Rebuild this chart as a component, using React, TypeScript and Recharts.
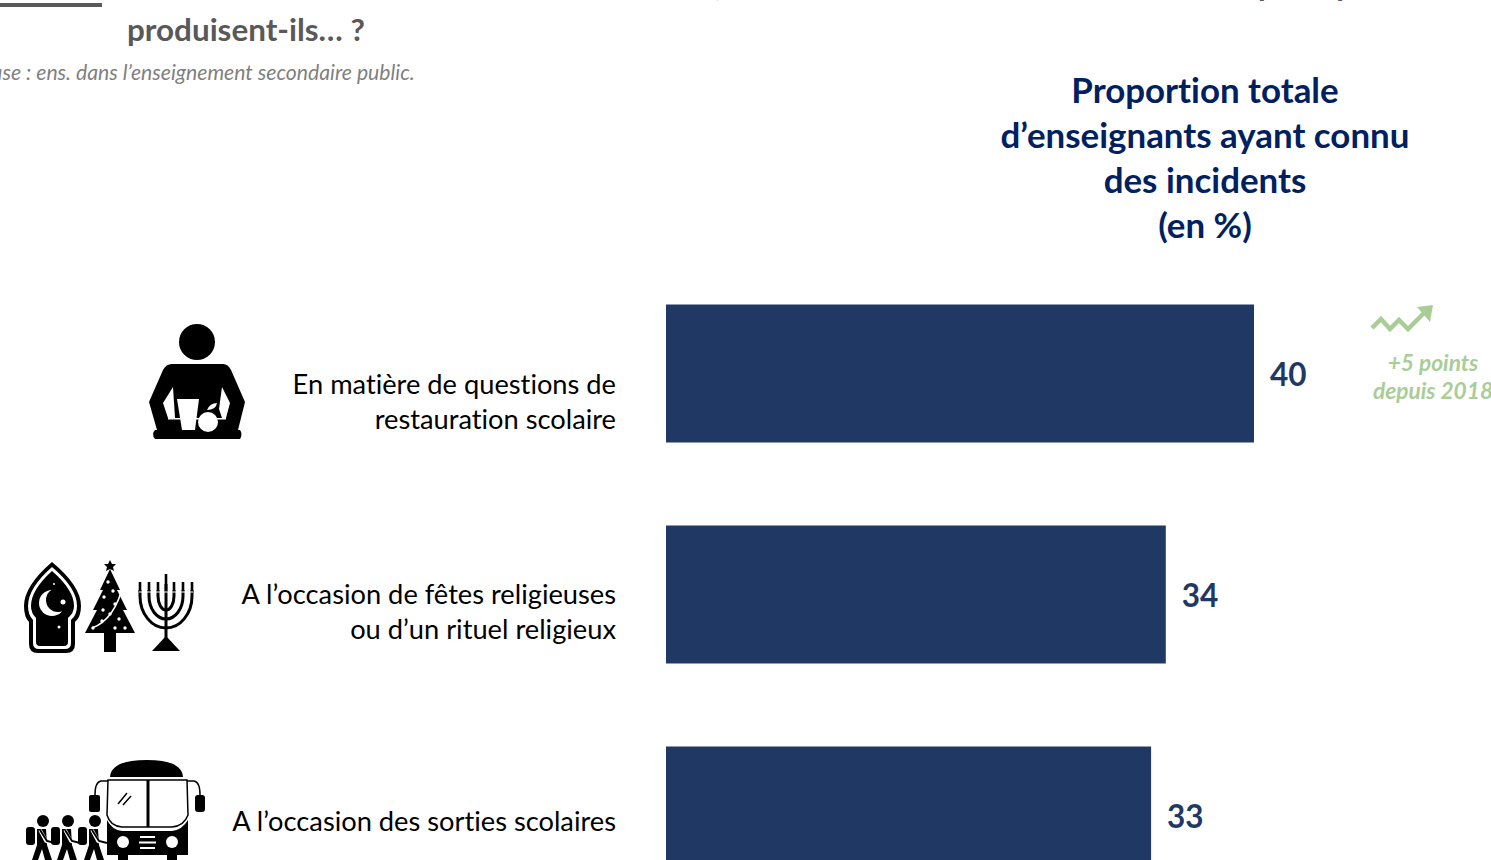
import React from 'react'
import { BarChart, Bar, XAxis, YAxis, LabelList, Cell } from 'recharts'

const categories = [
  ['En matière de questions de', 'restauration scolaire'],
  ['A l’occasion de fêtes religieuses', 'ou d’un rituel religieux'],
  ['A l’occasion des sorties scolaires'],
]
const values = [40, 34, 33]
const titleLines = ['Proportion totale', 'd’enseignants ayant connu', 'des incidents', '(en %)']
const rows = categories.map((lines, i) => ({ name: lines.join(' '), lines, value: values[i] }))

const NAVY = '#1f3864'
const FONT = 'Lato, "Noto Sans", sans-serif'
const noLig = { fontVariantLigatures: 'none' } as React.CSSProperties

function MealIcon() {
  return (
    <g>
      <circle cx={197} cy={342} r={18} fill="#000" />
      <path d="M172 364 H223 Q228 364 231 370 L245 402 L238 430 H240 Q243 434 240 439 H155 Q151 434 155 430 H157 L149 402 L163 370 Q166 364 172 364 Z" fill="#000" />
      <path d="M163 403 L173 387 L175 418 H168 Z" fill="#fff" />
      <path d="M230 403 L222 387 L219 409 L222 418 H226 Z" fill="#fff" />
      <path d="M168 418 H226 V419.5 H168 Z" fill="#fff" />
      <path d="M177 399 H199 L195 430 H182 Z" fill="#fff" />
      <circle cx={208} cy={422} r={10} fill="#fff" />
      <path d="M207 410 Q210 403 217 403 Q216 410 207 410 Z" fill="#fff" />
    </g>
  )
}

function FeastIcon() {
  const arms = [8, 17, 26]
  return (
    <g>
      <path d="M52 562 Q81 586 81 606 Q81 617 75 622 V644 Q75 653 66 653 H38 Q29 653 29 644 V622 Q24 617 24 606 Q24 586 52 562 Z" fill="#000" />
      <path d="M52 567 Q77 588 77 606 Q77 615 71 620 V643 Q71 649 65 649 H39 Q33 649 33 643 V620 Q28 615 28 606 Q28 588 52 567 Z" fill="#fff" />
      <path d="M52 571 Q74 590 74 606 Q74 613 68 618 V642 Q68 646 64 646 H40 Q36 646 36 642 V618 Q31 613 31 606 Q31 590 52 571 Z" fill="#000" />
      <circle cx={52} cy={603} r={13} fill="#fff" />
      <circle cx={58} cy={600} r={12} fill="#000" />
      <circle cx={63} cy={602} r={2.5} fill="#fff" />
      <circle cx={59} cy={627} r={1.5} fill="#fff" />
      <circle cx={54} cy={584} r={1} fill="#fff" />
      <path d="M110 560 L112 564 L116 564 L113 567 L114 571 L110 569 L106 571 L107 567 L104 564 L108 564 Z" fill="#000" />
      <path d="M110 569 L120 590 H117 L127 610 H123 L135 633 H116 V652 H104 V633 H85 L97 610 H93 L103 590 H100 Z" fill="#000" />
      <path d="M92 628 Q115 620 124 582" fill="none" stroke="#fff" strokeWidth={1.5} />
      {[[108, 582], [113, 591], [104, 597], [115, 604], [103, 610], [110, 614], [119, 619], [102, 621], [93, 628], [115, 628], [125, 628]].map(([cx, cy], i) => (
        <circle key={i} cx={cx} cy={cy} r={1.7} fill="#fff" />
      ))}
      <g fill="none" stroke="#000" strokeWidth={3}>
        <path d="M166 584 V644" />
        {arms.map((r) => (
          <path key={r} d={`M${166 - r} 590 V596 A${r} ${r + 6} 0 0 0 ${166 + r} 596 V590`} />
        ))}
      </g>
      <path d="M166 636 L180 651 H152 Z" fill="#000" />
      {[-26, -17, -8, 0, 8, 17, 26].map((dx) => (
        <rect key={dx} x={164.7 + dx} y={dx === 0 ? 574 : 582} width={2.6} height={dx === 0 ? 18 : 10} fill="#000" />
      ))}
      <rect x={139} y={591.5} width={54} height={1} fill="#fff" />
    </g>
  )
}

function TripIcon() {
  return (
    <g>
      <path d="M110 777 Q111 760 147 760 Q182 760 183 777 Z" fill="#000" />
      <path d="M108 780 H187 L188 815 Q184 826 172 827 H122 Q110 826 107 815 Z" fill="#fff" stroke="#000" strokeWidth={1.5} />
      <path d="M148 780 V827" stroke="#000" strokeWidth={3} />
      <path d="M107 820 Q112 830 122 831 H172 Q182 830 188 820 V855 H177 V860 H167 V855 H128 V860 H118 V855 H107 Z" fill="#000" />
      <circle cx={123} cy={842} r={6} fill="#fff" />
      <circle cx={172} cy={842} r={6} fill="#fff" />
      <path d="M140 837 H155 M139 842.5 H156 M140 848 H155" stroke="#fff" strokeWidth={2} />
      <path d="M118 804 L127 793 M123 805 L131 796" stroke="#000" strokeWidth={1.5} />
      <path d="M108 781 H101 Q95 782 95 795 M187 781 H194 Q200 782 200 795" fill="none" stroke="#000" strokeWidth={1.5} />
      <rect x={89} y={795} width={11} height={17} rx={2} fill="#000" />
      <rect x={195} y={795} width={10} height={17} rx={3} fill="#000" />
      {[43, 68, 95].map((x) => (
        <g key={x}>
          <circle cx={x} cy={821} r={6} fill="#000" />
          <path d={`M${x - 6} 829 H${x + 3} L${x + 4} 845 L${x + 9} 860 H${x + 2} L${x - 1} 849 L${x - 5} 860 H${x - 11} L${x - 6} 845 Z`} fill="#000" />
          <rect x={x - 17} y={827} width={9} height={18} rx={3} fill="#000" />
          <path d={`M${x - 3} 830 L${x + 3} 841 L${x + 8} 843`} stroke="#fff" strokeWidth={3.5} fill="none" />
          <path d={`M${x - 3} 830 L${x + 4} 841 L${x + 12} 843`} stroke="#000" strokeWidth={2} fill="none" />
        </g>
      ))}
    </g>
  )
}

const icons = [MealIcon, FeastIcon, TripIcon]

// category label: right aligned text block, placed from the band centre
function CategoryTick({ y, payload }: any) {
  const lines = categories[payload.index]
  const lineH = 35.5
  const nudge = [38, 27, 15]
  const first = y - ((lines.length - 1) * 36) / 2 + nudge[payload.index]
  return (
    <text x={616} textAnchor="end" fontFamily={FONT} fontSize={27.25} fill="#000" style={noLig}>
      {lines.map((l: string, i: number) => (
        <tspan key={i} x={616} y={first + i * lineH}>{l}</tspan>
      ))}
    </text>
  )
}

function ValueLabel({ x, y, width, height, value }: any) {
  return (
    <text x={x + width + 16} y={y + height / 2 + 12} fill={NAVY} fontFamily={FONT} fontWeight={700} fontSize={31.5}>
      {value}
    </text>
  )
}

export default function App() {
  return (
    <div style={{ position: 'fixed', left: 0, top: 0, width: 1491, height: 860, overflow: 'hidden', background: '#fff', fontFamily: FONT }}>
      <BarChart
        width={1491}
        height={926}
        data={rows}
        layout="vertical"
        barCategoryGap={41.5}
        margin={{ top: 263, right: 90, bottom: 0, left: 0 }}
      >
        <XAxis type="number" domain={[0, 50]} hide />
        <YAxis type="category" dataKey="name" width={666} axisLine={false} tickLine={false} interval={0} tick={<CategoryTick />} />
        <Bar dataKey="value" isAnimationActive={false}>
          {rows.map((r) => <Cell key={r.name} fill={NAVY} />)}
          <LabelList dataKey="value" content={<ValueLabel />} />
        </Bar>
      </BarChart>

      <svg width={1491} height={860} style={{ position: 'absolute', left: 0, top: 0, pointerEvents: 'none', ...noLig }}>
        <rect x={0} y={3} width={102} height={4} fill="#595959" />
        {icons.map((Icon, i) => <Icon key={i} />)}
        <path d="M1372 328 L1381 319 L1390 329 L1399 320 L1408 329 L1426 311" fill="none" stroke="#a9cd97" strokeWidth={4.5} />
        <path d="M1417 307 L1433 305 L1430 322 Z" fill="#a9cd97" />
        <g fontFamily={FONT} fill="#a9cd97" fontStyle="italic" fontWeight={700} fontSize={22.7} textAnchor="middle">
          <text x={1433} y={371}>+5 points</text>
          <text x={1433} y={399}>depuis 2018</text>
        </g>
        <g fontFamily={FONT} fill="#002060" fontWeight={700} fontSize={34.9} textAnchor="middle">
          {titleLines.map((l, i) => <text key={l} x={1205} y={103 + i * 45}>{l}</text>)}
        </g>
        <g fontFamily={FONT} fill="#595959" fontWeight={700} fontSize={31.4}>
          <text x={722} y={-4} textAnchor="end">Dans le cadre des activités scolaires,</text>
          <text x={1250} y={-4} textAnchor="end">des incidents liés à la contestation du</text>
          <text x={1258} y={-4}>principe de la laïcité se</text>
          <text x={127} y={41}>produisent-ils… ?</text>
        </g>
        <text x={-21} y={80} fontFamily={FONT} fill="#7f7f7f" fontStyle="italic" fontSize={21.2}>Base : ens. dans l’enseignement secondaire public.</text>
      </svg>
    </div>
  )
}
